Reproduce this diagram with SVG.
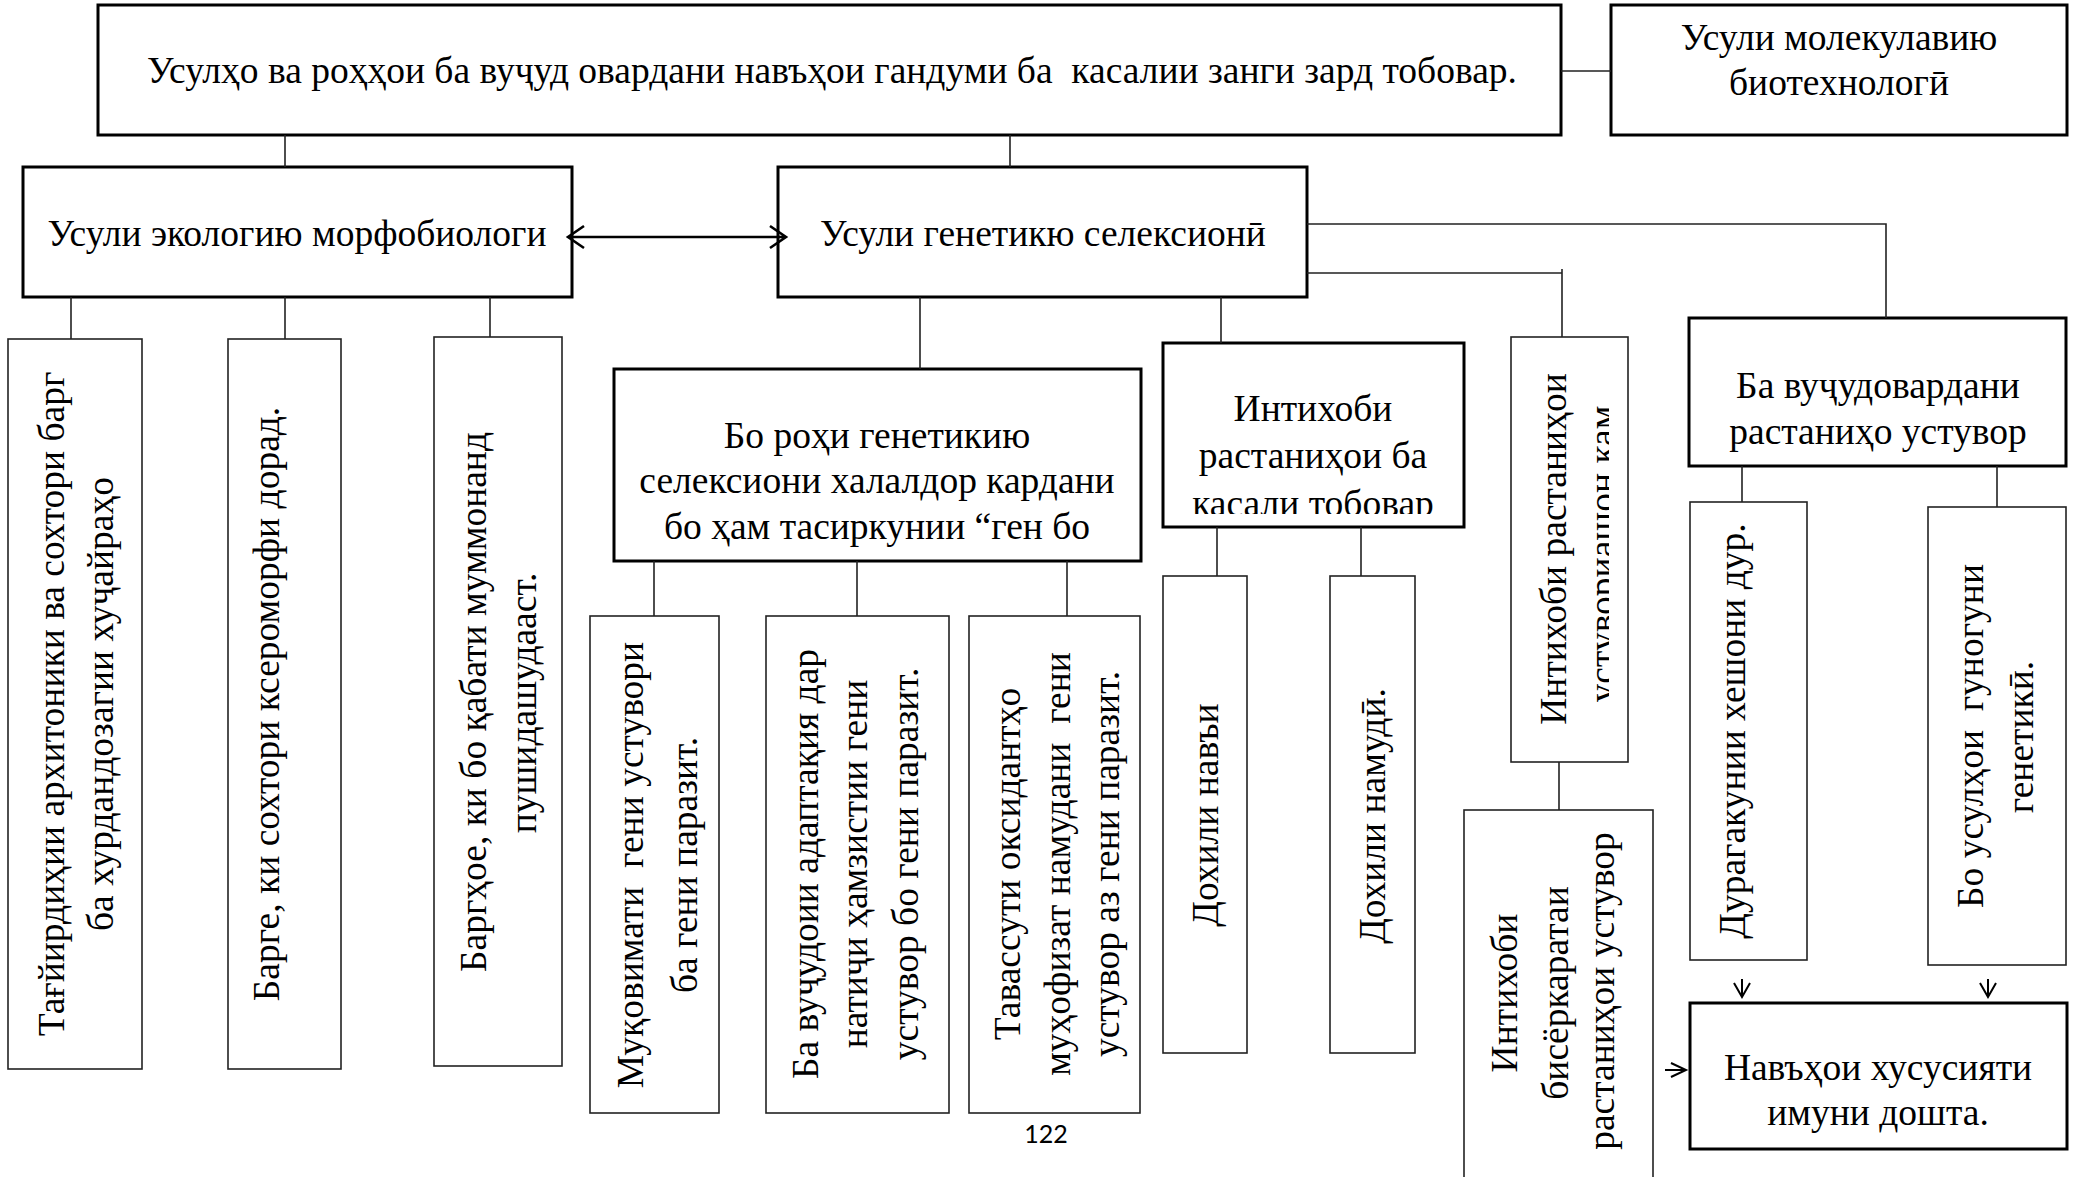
<svg xmlns="http://www.w3.org/2000/svg" width="2078" height="1177" viewBox="0 0 2078 1177">
<style>
.box{fill:#fff;stroke:#000;stroke-width:3}
.vbox{fill:#fff;stroke:#222;stroke-width:1.6}
.t{font-family:"Liberation Serif","Times New Roman",serif;font-size:37.5px;fill:#000;text-anchor:middle;white-space:pre}
.pg{font-family:Lato,"Open Sans",sans-serif;font-size:25px;fill:#000;text-anchor:middle}
.c{stroke:#222;stroke-width:1.6;fill:none}
.a{stroke:#000;stroke-width:2.6;fill:none}
.s{stroke:#000;stroke-width:2;fill:none}
</style>
<defs>
<clipPath id="clipV"><rect x="1511" y="337" width="98" height="425"/></clipPath>
<clipPath id="clipH"><rect x="1163" y="343" width="301" height="171"/></clipPath>
</defs>
<rect width="2078" height="1177" fill="#fff"/>

<g id="n-main">
<rect class="box" x="98" y="5" width="1463" height="130"/>
<text class="t" x="832" y="83">Усулҳо ва роҳҳои ба вуҷуд овардани навъҳои гандуми ба  касалии занги зард тобовар.</text>
</g>
<g id="n-molecular">
<rect class="box" x="1611" y="5" width="456" height="130"/>
<text class="t" x="1839" y="50">Усули молекулавию</text>
<text class="t" x="1839" y="95">биотехнологӣ</text>
</g>
<g id="n-ecology">
<rect class="box" x="23" y="167" width="549" height="130"/>
<text class="t" x="297" y="246">Усули экологию морфобиологи</text>
</g>
<g id="n-genetic">
<rect class="box" x="778" y="167" width="529" height="130"/>
<text class="t" x="1043" y="246">Усули генетикю селексионӣ</text>
</g>

<g id="n-leaf1">
<rect class="vbox" x="8" y="339" width="134" height="730"/>
<text class="t" transform="translate(64,704) rotate(-90)">Тағйирдиҳии архитоники ва сохтори барг</text>
<text class="t" transform="translate(113,704) rotate(-90)">ба хурдандозагии хуҷайраҳо</text>
</g>
<g id="n-leaf2">
<rect class="vbox" x="228" y="339" width="113" height="730"/>
<text class="t" transform="translate(279,704) rotate(-90)">Барге, ки сохтори ксероморфи дорад.</text>
</g>
<g id="n-leaf3">
<rect class="vbox" x="434" y="337" width="128" height="729"/>
<text class="t" transform="translate(486,702) rotate(-90)">Баргҳое, ки бо қабати муммонанд</text>
<text class="t" transform="translate(536,703) rotate(-90)">пушидашудааст.</text>
</g>

<g id="n-genepath">
<rect class="box" x="614" y="369" width="527" height="192"/>
<text class="t" x="877" y="448">Бо роҳи генетикию</text>
<text class="t" x="877" y="493">селексиони халалдор кардани</text>
<text class="t" x="877" y="539">бо ҳам тасиркунии “ген бо</text>
</g>
<g id="n-resist">
<rect class="vbox" x="590" y="616" width="129" height="497"/>
<text class="t" transform="translate(643,865) rotate(-90)">Муқовимати  гени устувори</text>
<text class="t" transform="translate(697,865) rotate(-90)">ба гени паразит.</text>
</g>
<g id="n-adapt">
<rect class="vbox" x="766" y="616" width="183" height="497"/>
<text class="t" transform="translate(818,864) rotate(-90)">Ба вуҷудоии адаптақия дар</text>
<text class="t" transform="translate(867,864) rotate(-90)">натиҷи ҳамзистии гени</text>
<text class="t" transform="translate(918,864) rotate(-90)">устувор бо гени паразит.</text>
</g>
<g id="n-oxid">
<rect class="vbox" x="969" y="616" width="171" height="497"/>
<text class="t" transform="translate(1020,864) rotate(-90)">Тавассути оксидантҳо</text>
<text class="t" transform="translate(1070,864) rotate(-90)">муҳофизат намудани  гени</text>
<text class="t" transform="translate(1119,864) rotate(-90)">устувор аз гени паразит.</text>
</g>

<g id="n-select">
<rect class="box" x="1163" y="343" width="301" height="184"/>
<g clip-path="url(#clipH)">
<text class="t" x="1313" y="421">Интихоби</text>
<text class="t" x="1313" y="468">растаниҳои ба</text>
<text class="t" x="1313" y="516">касали тобовар</text>
</g>
</g>
<g id="n-intra-var">
<rect class="vbox" x="1163" y="576" width="84" height="477"/>
<text class="t" transform="translate(1218,815) rotate(-90)">Дохили навъи</text>
</g>
<g id="n-intra-sp">
<rect class="vbox" x="1330" y="576" width="85" height="477"/>
<text class="t" transform="translate(1385,816) rotate(-90)">Дохили намудӣ.</text>
</g>

<g id="n-lowres">
<rect class="vbox" x="1511" y="337" width="117" height="425"/>
<text class="t" transform="translate(1566,549) rotate(-90)">Интихоби растаниҳои</text>
<g clip-path="url(#clipV)">
<text class="t" transform="translate(1615,554) rotate(-90)">устувориашон кам</text>
</g>
</g>
<g id="n-multi">
<rect class="vbox" x="1464" y="810" width="189" height="400"/>
<text class="t" transform="translate(1517,993) rotate(-90)">Интихоби</text>
<text class="t" transform="translate(1568,993) rotate(-90)">бисёркаратаи</text>
<text class="t" transform="translate(1614,991) rotate(-90)">растаниҳои устувор</text>
</g>

<g id="n-create">
<rect class="box" x="1689" y="318" width="377" height="148"/>
<text class="t" x="1878" y="398">Ба вуҷудовардани</text>
<text class="t" x="1878" y="444">растаниҳо устувор</text>
</g>
<g id="n-hybrid">
<rect class="vbox" x="1690" y="502" width="117" height="458"/>
<text class="t" transform="translate(1745,731) rotate(-90)">Дурагакунии хешони дур.</text>
</g>
<g id="n-methods">
<rect class="vbox" x="1928" y="507" width="138" height="458"/>
<text class="t" transform="translate(1983,736) rotate(-90)">Бо усулҳои  гуногуни</text>
<text class="t" transform="translate(2033,737) rotate(-90)">генетикӣ.</text>
</g>
<g id="n-result">
<rect class="box" x="1690" y="1003" width="377" height="146"/>
<text class="t" x="1878" y="1080">Навъҳои хусусияти</text>
<text class="t" x="1878" y="1125">имуни дошта.</text>
</g>

<text class="pg" x="1046" y="1143">122</text>

<g id="connectors">
<path class="c" d="M285 135V167M1010 135V167M1561 71H1611"/>
<path class="c" d="M71 297V339M285 297V339M490 297V337"/>
<path class="c" d="M920 297V369M1221 297V343M1307 273H1562M1562 269V337M1307 224H1886V318"/>
<path class="c" d="M654 561V616M857 561V616M1067 561V616"/>
<path class="c" d="M1217 527V576M1361 527V576M1559 762V810"/>
<path class="c" d="M1742 466V502M1997 466V507"/>
<path class="a" d="M568 237H786M584 226L568 237L584 248M770 226L786 237L770 248"/>
<path class="s" d="M1742 979V997M1734 983L1742 997L1750 983"/>
<path class="s" d="M1988 979V997M1980 983L1988 997L1996 983"/>
<path class="s" d="M1665 1070H1686M1671 1063L1686 1070L1671 1077"/>
</g>
</svg>
